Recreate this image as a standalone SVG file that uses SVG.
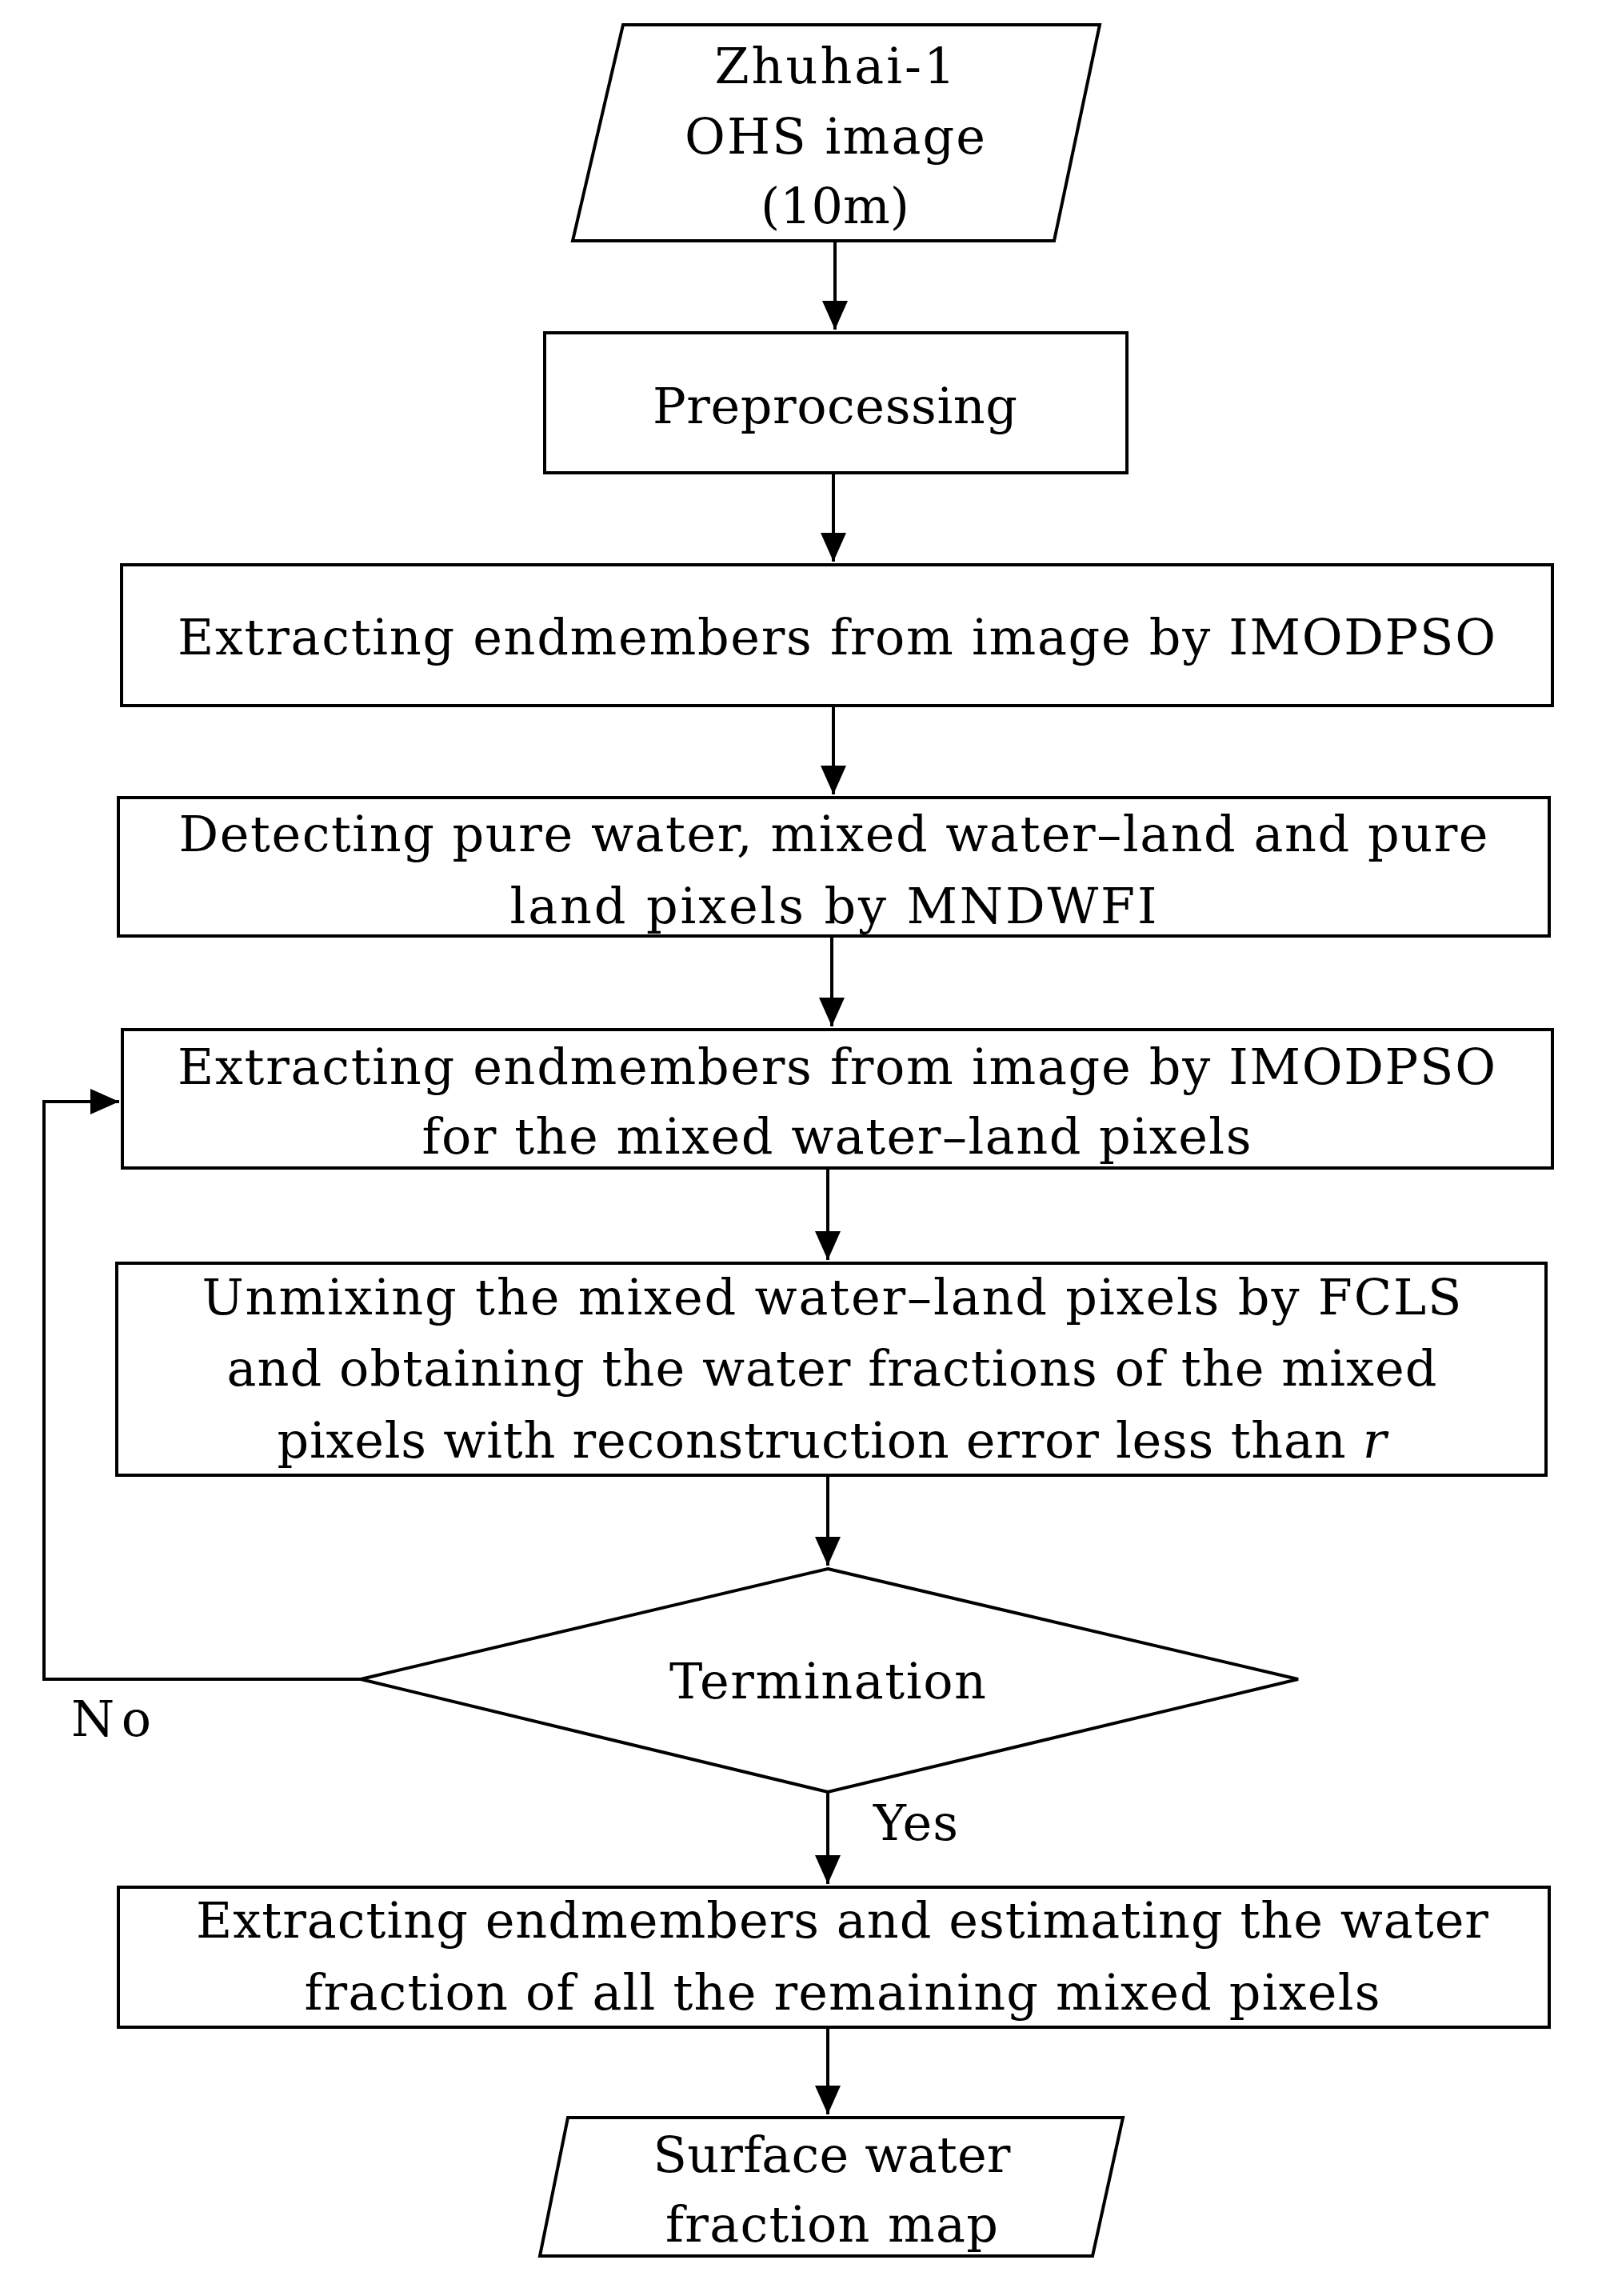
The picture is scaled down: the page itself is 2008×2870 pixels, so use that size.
<svg xmlns="http://www.w3.org/2000/svg" width="2008" height="2870" viewBox="0 0 2008 2870">
<style>
.s{fill:#fff;stroke:#000;stroke-width:4}
.c{fill:none;stroke:#000;stroke-width:4}
text{font-family:"DejaVu Serif","Liberation Serif",serif;font-size:62px;fill:#000;text-anchor:middle}
</style>
<defs><marker id="a" markerWidth="10" markerHeight="10" refX="9" refY="5" orient="auto" markerUnits="strokeWidth"><path d="M0,1 L9,5 L0,9 Z" fill="#000"/></marker></defs>
<rect width="2008" height="2870" fill="#fff"/>
<g id="connectors">
<line class="c" x1="1044" y1="301" x2="1044" y2="412" marker-end="url(#a)"/>
<line class="c" x1="1042" y1="591" x2="1042" y2="702" marker-end="url(#a)"/>
<line class="c" x1="1042" y1="882" x2="1042" y2="993" marker-end="url(#a)"/>
<line class="c" x1="1040" y1="1170" x2="1040" y2="1283" marker-end="url(#a)"/>
<line class="c" x1="1035" y1="1460" x2="1035" y2="1575" marker-end="url(#a)"/>
<line class="c" x1="1035" y1="1844" x2="1035" y2="1957" marker-end="url(#a)"/>
<line class="c" x1="1035" y1="2240" x2="1035" y2="2355" marker-end="url(#a)"/>
<line class="c" x1="1035" y1="2534" x2="1035" y2="2643" marker-end="url(#a)"/>
<polyline class="c" points="451,2099 55,2099 55,1377 149,1377" marker-end="url(#a)"/>
<text x="139" y="2170" textLength="100">No</text>
<text x="1145" y="2300" textLength="106">Yes</text>
</g>
<g id="input"><polygon class="s" points="779,31 1375,31 1318,301 716,301"/>
<text x="1044" y="104" textLength="301">Zhuhai-1</text>
<text x="1044" y="192" textLength="376">OHS image</text>
<text x="1044" y="279" textLength="186">(10m)</text></g>
<g id="pre"><rect class="s" x="681" y="416" width="728" height="175"/>
<text x="1044" y="529" textLength="456">Preprocessing</text></g>
<g id="extract1"><rect class="s" x="152" y="706" width="1789" height="176"/>
<text x="1046" y="818" textLength="1648">Extracting endmembers from image by IMODPSO</text></g>
<g id="detect"><rect class="s" x="148" y="997" width="1789" height="173"/>
<text x="1042" y="1064" textLength="1637">Detecting pure water, mixed water–land and pure</text>
<text x="1042" y="1154" textLength="809">land pixels by MNDWFI</text></g>
<g id="extract2"><rect class="s" x="153" y="1287" width="1788" height="173"/>
<text x="1046" y="1355" textLength="1648">Extracting endmembers from image by IMODPSO</text>
<text x="1046" y="1442" textLength="1037">for the mixed water–land pixels</text></g>
<g id="unmix"><rect class="s" x="146" y="1579" width="1787" height="265"/>
<text x="1040" y="1643" textLength="1575">Unmixing the mixed water–land pixels by FCLS</text>
<text x="1040" y="1732" textLength="1513">and obtaining the water fractions of the mixed</text>
<text x="1040" y="1822" textLength="1387">pixels with reconstruction error less than <tspan font-style="italic">r</tspan></text></g>
<g id="term"><polygon class="s" points="1035,1961 1623,2099 1035,2240 451,2099"/>
<text x="1035" y="2123" textLength="396">Termination</text></g>
<g id="final"><rect class="s" x="148" y="2359" width="1789" height="175"/>
<text x="1053" y="2422" textLength="1616">Extracting endmembers and estimating the water</text>
<text x="1053" y="2512" textLength="1345">fraction of all the remaining mixed pixels</text></g>
<g id="output"><polygon class="s" points="710,2647 1404,2647 1366,2820 675,2820"/>
<text x="1040" y="2715" textLength="447">Surface water</text>
<text x="1040" y="2802" textLength="416">fraction map</text></g>
</svg>
